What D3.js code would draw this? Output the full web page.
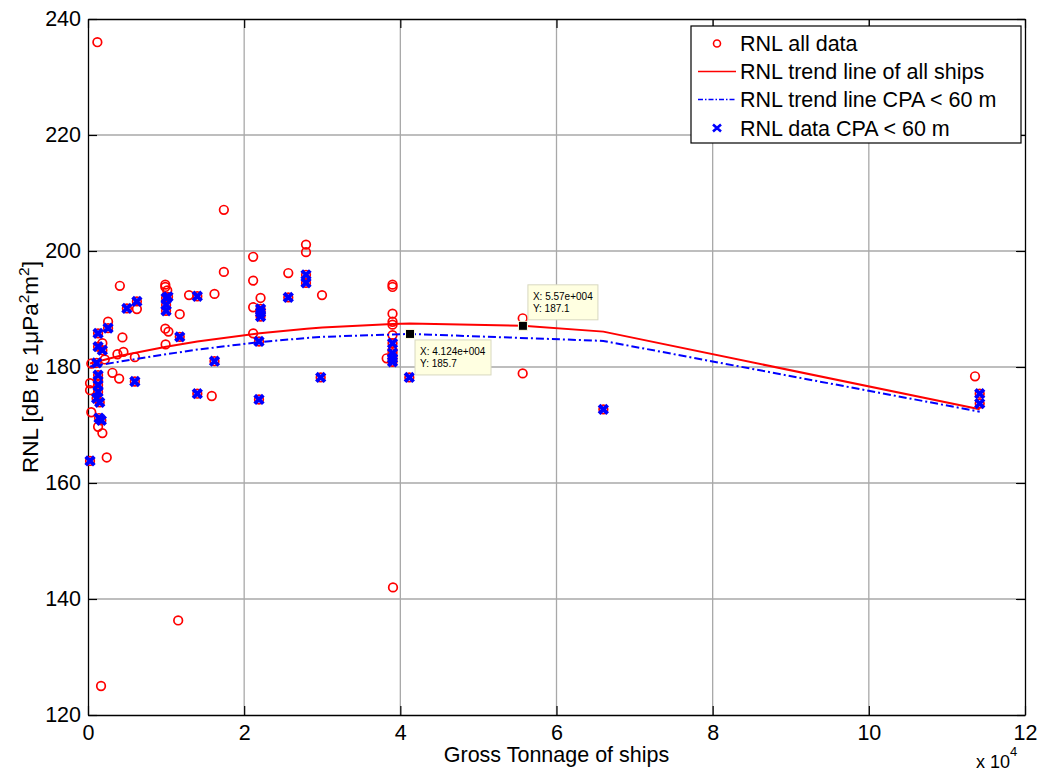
<!DOCTYPE html>
<html>
<head>
<meta charset="utf-8">
<script src="https://cdn.jsdelivr.net/npm/d3@7"></script>
<style>
  body { margin: 0; background: #fff; }
  svg { display: block; font-family: "Liberation Sans", Arial, sans-serif; }
</style>
</head>
<body>
<svg id="chart" width="1039" height="771"></svg>
<script>
// gross tonnage (GT), RNL (dB)
const allData = [
  [260, 177.2], [260, 176.0], [260, 163.8], [420, 180.6], [420, 172.2], [1120, 180.7], [1200, 236.0],
  [1290, 185.8], [1290, 183.5], [1290, 178.6], [1290, 177.7], [1290, 176.9], [1290, 175.7], [1290, 169.7],
  [1100, 174.6], [1500, 173.9], [1410, 171.2], [1710, 170.8], [1670, 125.0], [1840, 184.1], [1840, 182.9],
  [1840, 168.6], [2150, 181.3], [2400, 164.4], [2570, 187.8], [2570, 186.7], [3130, 179.0], [3770, 182.2],
  [3990, 178.0], [4080, 194.0], [4410, 185.1], [4540, 182.6], [4980, 190.1], [6000, 181.7], [6000, 177.5],
  [6260, 191.3], [6260, 190.0], [9900, 194.2], [9900, 193.8], [10150, 193.2], [10000, 191.9], [10000, 190.7],
  [10000, 189.7], [10250, 192.1], [9900, 186.6], [10300, 186.1], [9940, 183.9], [11550, 136.3], [11750, 189.1],
  [11750, 185.2], [12940, 192.4], [14000, 192.2], [14000, 175.4], [15850, 175.0], [16200, 192.6], [16200, 181.0],
  [17400, 207.1], [17400, 196.4], [21150, 199.0], [21150, 194.9], [21150, 190.3], [21150, 185.8], [21900, 184.4],
  [21900, 174.4], [22100, 191.9], [22100, 190.0], [22100, 189.4], [22100, 188.7], [25650, 196.2], [25650, 192.0],
  [27920, 201.1], [27920, 199.8], [27920, 195.9], [27920, 194.5], [29800, 178.2], [29970, 192.4], [38250, 181.5],
  [39000, 194.2], [39000, 193.8], [39000, 189.2], [39000, 187.8], [39000, 187.3], [39000, 185.5], [39000, 184.1],
  [39000, 182.9], [39000, 182.4], [39000, 181.5], [39000, 180.9], [39060, 142.0], [41150, 178.2], [55670, 188.4],
  [55670, 178.9], [66000, 172.7], [113600, 178.4], [114200, 175.4], [114200, 173.7]
]

const cpaData = [
  [260, 163.8], [1120, 180.7], [1290, 185.8], [1290, 183.5], [1290, 178.6], [1290, 176.9], [1290, 175.7],
  [1100, 174.6], [1500, 173.9], [1410, 171.2], [1710, 170.8], [1840, 182.9], [2570, 186.7], [4980, 190.1],
  [6000, 177.5], [6260, 191.3], [10000, 191.9], [10000, 190.7], [10000, 189.7], [10250, 192.1], [11750, 185.2],
  [14000, 192.2], [14000, 175.4], [16200, 181.0], [21900, 184.4], [21900, 174.4], [22100, 190.0], [22100, 189.4],
  [22100, 188.7], [25650, 192.0], [27920, 195.9], [27920, 194.5], [29800, 178.2], [39000, 184.1], [39000, 182.4],
  [39000, 181.5], [39000, 180.9], [41150, 178.2], [66000, 172.7], [114200, 175.4], [114200, 173.7]
]

const trendAll = [
  [260, 180.6], [4000, 181.9], [10000, 183.5], [14000, 184.4], [22000, 185.8], [28000, 186.6],
  [30000, 186.8], [39000, 187.4], [41200, 187.5], [55700, 187.1], [66000, 186.1], [114200, 172.7]
]

const trendCpa = [
  [260, 180.1], [10000, 182.2], [14000, 183.0], [22000, 184.3], [28000, 185.0], [30000, 185.2],
  [39000, 185.6], [41240, 185.7], [66000, 184.5], [114200, 172.3]
]

const dataTips = [
  { x: 41240, y: 185.7, dx: 5, dy: 6, w: 76, lines: ["X: 4.124e+004", "Y: 185.7"] },
  { x: 55700, y: 187.1, dx: 5, dy: -41, w: 70, lines: ["X: 5.57e+004", "Y: 187.1"] }
]

const xTicks = [0, 20000, 40000, 60000, 80000, 100000, 120000]
const yTicks = [120, 140, 160, 180, 200, 220, 240]

const legendItems = [
  { label: "RNL all data", type: "circle" },
  { label: "RNL trend line of all ships", type: "solid" },
  { label: "RNL trend line CPA < 60 m", type: "dashdot" },
  { label: "RNL data CPA < 60 m", type: "cross" }
]

const svg = d3.select("#chart")
const margin = { top: 19, right: 14, bottom: 56, left: 88 }
const width = 1039 - margin.left - margin.right
const height = 771 - margin.top - margin.bottom

const x = d3.scaleLinear().domain([0, 120000]).range([0, width])
const y = d3.scaleLinear().domain([120, 240]).range([height, 0])

const g = svg.append("g").attr("transform", `translate(${margin.left},${margin.top})`)

// grid
g.append("g").selectAll("line").data(xTicks.slice(1, -1)).enter().append("line")
  .attr("x1", (d) => x(d)).attr("x2", (d) => x(d)).attr("y1", 0).attr("y2", height)
  .attr("stroke", "#a8a8a8").attr("stroke-width", 1.3)
g.append("g").selectAll("line").data(yTicks.slice(1, -1)).enter().append("line")
  .attr("y1", (d) => y(d)).attr("y2", (d) => y(d)).attr("x1", 0).attr("x2", width)
  .attr("stroke", "#a8a8a8").attr("stroke-width", 1.3)

// axes
const fmtX = (d) => d / 10000
const axes = [
  g.append("g").attr("transform", `translate(0,${height})`)
    .call(d3.axisBottom(x).tickValues(xTicks).tickFormat(fmtX).tickSizeInner(-9).tickSizeOuter(0).tickPadding(10)),
  g.append("g").call(d3.axisTop(x).tickValues(xTicks).tickFormat("").tickSizeInner(-9).tickSizeOuter(0)),
  g.append("g").call(d3.axisLeft(y).tickValues(yTicks).tickSizeInner(-9).tickSizeOuter(0).tickPadding(7)),
  g.append("g").attr("transform", `translate(${width},0)`)
    .call(d3.axisRight(y).tickValues(yTicks).tickFormat("").tickSizeInner(-9).tickSizeOuter(0))
]
axes.forEach((a) => {
  a.selectAll("text").attr("font-size", 21.5).attr("fill", "#000").attr("font-family", "Liberation Sans, Arial, sans-serif")
  a.selectAll(".domain").attr("stroke", "#000").attr("stroke-width", 1.3)
  a.selectAll(".tick line").attr("stroke", "#000").attr("stroke-width", 1.2)
})

// trend lines
const line = d3.line().x((d) => x(d[0])).y((d) => y(d[1]))
g.append("path").datum(trendAll).attr("d", line)
  .attr("fill", "none").attr("stroke", "#ff0000").attr("stroke-width", 2)

// red circles
g.append("g").selectAll("circle").data(allData).enter().append("circle")
  .attr("cx", (d) => x(d[0])).attr("cy", (d) => y(d[1])).attr("r", 4.3)
  .attr("fill", "none").attr("stroke", "#ff0000").attr("stroke-width", 1.7)

g.append("path").datum(trendCpa).attr("d", line)
  .attr("fill", "none").attr("stroke", "#0000ff").attr("stroke-width", 2)
  .attr("stroke-dasharray", "8,3,2,3")

// blue crosses
const s = 4.3
g.append("g").selectAll("path").data(cpaData).enter().append("path")
  .attr("d", (d) => {
    const cx = x(d[0]), cy = y(d[1])
    return `M${cx - s},${cy - s}L${cx + s},${cy + s}M${cx - s},${cy + s}L${cx + s},${cy - s}`
  })
  .attr("stroke", "#0000ff").attr("stroke-width", 3.8).attr("fill", "none")

// data tips
dataTips.forEach((t) => {
  const px = x(t.x), py = y(t.y)
  const box = g.append("g").attr("transform", `translate(${px + t.dx},${py + t.dy})`)
  box.append("rect").attr("width", t.w).attr("height", 35)
    .attr("fill", "#ffffe1").attr("stroke", "#d8d8c0").attr("stroke-width", 1)
  t.lines.forEach((l, i) => {
    box.append("text").attr("x", 5).attr("y", 15 + i * 12.5).attr("font-size", 10).attr("fill", "#000").text(l)
  })
  g.append("rect").attr("x", px - 4.5).attr("y", py - 4.5).attr("width", 9).attr("height", 9)
    .attr("fill", "#000").attr("stroke", "#ffffe1").attr("stroke-width", 1)
})

// axis labels
svg.append("text").attr("x", margin.left + width / 2).attr("y", 762).attr("text-anchor", "middle")
  .attr("font-size", 21.5).text("Gross Tonnage of ships")

const xExp = svg.append("text").attr("x", 976).attr("y", 768).attr("font-size", 18)
xExp.append("tspan").text("x 10")
xExp.append("tspan").attr("dy", -12).attr("font-size", 13).text("4")

const yl = svg.append("text").attr("transform", `translate(38,${margin.top + height / 2}) rotate(-90)`)
  .attr("text-anchor", "middle").attr("font-size", 22.5)
yl.append("tspan").text("RNL [dB re 1")
yl.append("tspan").text("\u03bc")
yl.append("tspan").text("Pa")
yl.append("tspan").attr("dy", -9).attr("font-size", 15.5).text("2")
yl.append("tspan").attr("dy", 9).text("m")
yl.append("tspan").attr("dy", -9).attr("font-size", 15.5).text("2")
yl.append("tspan").attr("dy", 9).text("]")

// legend
const lg = svg.append("g").attr("transform", "translate(691,26)")
lg.append("rect").attr("width", 330).attr("height", 117).attr("fill", "#fff").attr("stroke", "#000").attr("stroke-width", 1.2)
const rowY = [17.5, 45.5, 73.5, 102]
legendItems.forEach((it, i) => {
  const ry = rowY[i]
  if (it.type === "circle") {
    lg.append("circle").attr("cx", 26).attr("cy", ry).attr("r", 3.5).attr("fill", "none").attr("stroke", "#ff0000").attr("stroke-width", 1.6)
  } else if (it.type === "cross") {
    lg.append("path").attr("d", `M22,${ry - 3.5}L30,${ry + 3.5}M22,${ry + 3.5}L30,${ry - 3.5}`)
      .attr("stroke", "#0000ff").attr("stroke-width", 2.6)
  } else {
    lg.append("line").attr("x1", 7).attr("x2", 45).attr("y1", ry).attr("y2", ry)
      .attr("stroke", it.type === "solid" ? "#ff0000" : "#0000ff").attr("stroke-width", 1.6)
      .attr("stroke-dasharray", it.type === "solid" ? null : "5,2,1.5,2")
  }
  lg.append("text").attr("x", 49).attr("y", ry).attr("dy", "0.35em").attr("font-size", 21.5).text(it.label)
})
</script>
</body>
</html>
